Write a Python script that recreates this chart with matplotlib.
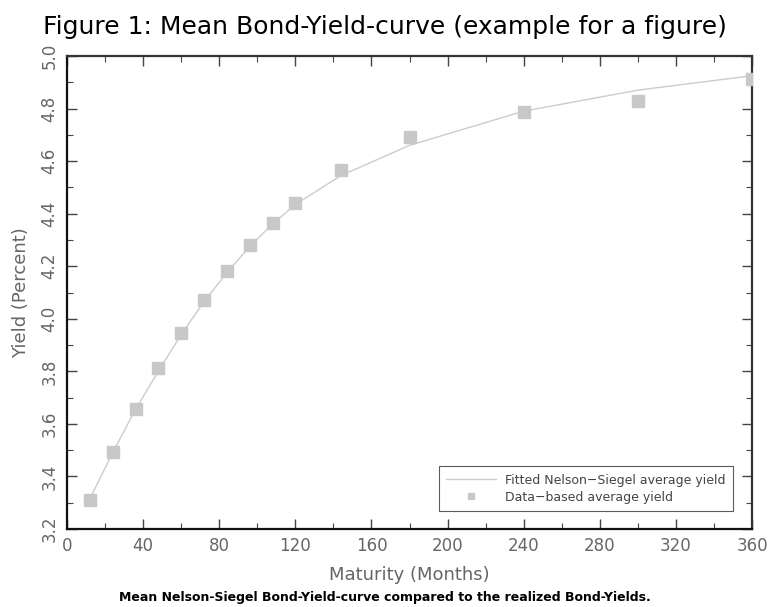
import matplotlib
matplotlib.use('Agg')
import matplotlib.pyplot as plt
from matplotlib.ticker import MultipleLocator

# maturities in months
maturity = [12, 24, 36, 48, 60, 72, 84, 96, 108, 120, 144, 180, 240, 300, 360]
# data-based average yield (markers)
yield_data = [3.31, 3.492, 3.658, 3.812, 3.947, 4.072, 4.182, 4.280, 4.366,
              4.442, 4.566, 4.693, 4.788, 4.830, 4.911]
# fitted Nelson-Siegel average yield (line)
yield_fit = [3.315, 3.49, 3.655, 3.80, 3.94, 4.065, 4.175, 4.275, 4.36,
             4.435, 4.545, 4.66, 4.79, 4.87, 4.925]

x_ticks = [0, 40, 80, 120, 160, 200, 240, 280, 320, 360]
y_ticks = [3.2, 3.4, 3.6, 3.8, 4.0, 4.2, 4.4, 4.6, 4.8, 5.0]

fig = plt.figure(figsize=(7.7, 6.07), dpi=100)
ax = fig.add_axes([67 / 770, 1 - 529 / 607, (752 - 67) / 770, (529 - 56) / 607])

ax.plot(maturity, yield_fit, color='#cccccc', lw=1.0, zorder=2,
        label='Fitted Nelson\u2212Siegel average yield')
ax.plot(maturity, yield_data, ls='none', marker='s', ms=8, color='#c8c8c8',
        mec='#c8c8c8', zorder=3, label='Data\u2212based average yield')

ax.set_xlim(0, 360)
ax.set_ylim(3.2, 5.0)
ax.set_xticks(x_ticks)
ax.set_yticks(y_ticks)
ax.xaxis.set_minor_locator(MultipleLocator(20))
ax.yaxis.set_minor_locator(MultipleLocator(0.1))
ax.set_xticklabels([str(t) for t in x_ticks])
ax.set_yticklabels([f'{t:.1f}' for t in y_ticks], rotation=90, va='center')

ax.tick_params(which='both', direction='in', top=True, right=True,
               colors='#444444', labelcolor='#666666', labelsize=12)
ax.tick_params(which='major', length=7, width=1)
ax.tick_params(which='minor', length=4, width=0.8)
ax.tick_params(axis='x', pad=6)
ax.tick_params(axis='y', pad=6)

for side in ['left', 'bottom']:
    ax.spines[side].set_linewidth(1.6)
    ax.spines[side].set_color('#111111')
for side in ['top', 'right']:
    ax.spines[side].set_linewidth(1.6)
    ax.spines[side].set_color('#333333')

ax.set_xlabel('Maturity (Months)', fontsize=13, color='#666666', labelpad=8)
ax.set_ylabel('Yield (Percent)', fontsize=13, color='#666666', labelpad=8)

leg = ax.legend(loc='lower right', bbox_to_anchor=(0.972, 0.038), borderaxespad=0,
                fontsize=9, frameon=True, fancybox=False, edgecolor='#333333',
                handlelength=4, borderpad=0.6, labelspacing=0.3, markerscale=0.6,
                handletextpad=0.7)
leg.get_frame().set_linewidth(0.8)
for t in leg.get_texts():
    t.set_color('#444444')

fig.text(0.5, 1 - 27 / 607, 'Figure 1: Mean Bond-Yield-curve (example for a figure)',
         ha='center', va='center', fontsize=18)
fig.text(0.5, 1 - 597 / 607,
         'Mean Nelson-Siegel Bond-Yield-curve compared to the realized Bond-Yields.',
         ha='center', va='center', fontsize=9, fontweight='bold')

fig.savefig('out.png', dpi=100)
